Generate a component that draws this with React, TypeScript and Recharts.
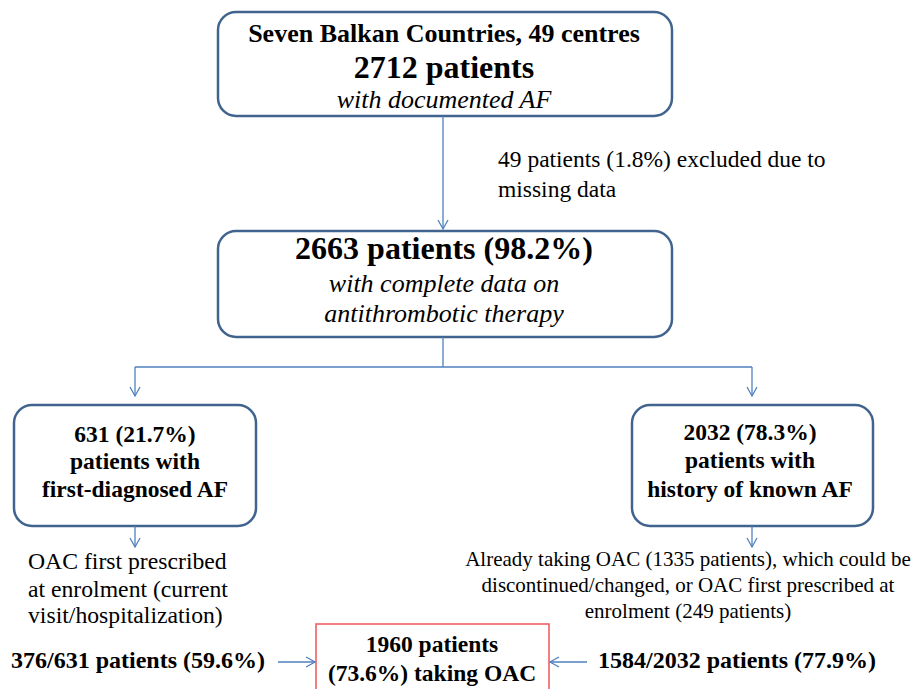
import React from 'react';
import { ComposedChart, XAxis, YAxis, ReferenceArea, ReferenceLine, ReferenceDot } from 'recharts';

const W = 917;
const H = 689;
const FONT = "'Liberation Serif', 'Times New Roman', serif";
const BOX_STROKE = '#41648f';
const LINK = '#4f81bd';
const RED = '#f0555a';

// ---- content (text data) ----
const topBoxLines = ['Seven Balkan Countries, 49 centres', '2712 patients', 'with documented AF'];
const midBoxLines = ['2663 patients (98.2%)', 'with complete data on', 'antithrombotic therapy'];
const excludedLines = ['49 patients (1.8%) excluded due to', 'missing data'];
const leftBoxLines = ['631 (21.7%)', 'patients with', 'first-diagnosed AF'];
const rightBoxLines = ['2032 (78.3%)', 'patients with', 'history of known AF'];
const leftNoteLines = ['OAC first prescribed', 'at enrolment (current', 'visit/hospitalization)'];
const rightNoteLines = [
  'Already taking OAC (1335 patients), which could be',
  'discontinued/changed, or OAC first prescribed at',
  'enrolment (249 patients)',
];
const leftResult = ['376/631 patients (59.6%)'];
const rightResult = ['1584/2032 patients (77.9%)'];
const finalBoxLines = ['1960 patients', '(73.6%) taking OAC'];

// ---- layout ----
type Style = { size: number; weight?: string; italic?: boolean };
type Block = { lines: string[]; x: number; ys: number[]; anchor: 'start' | 'middle'; styles: Style[] };

const B = (size: number): Style => ({ size, weight: 'bold' });
const I = (size: number): Style => ({ size, italic: true });
const R = (size: number): Style => ({ size });

const boxes = [
  { x1: 218, x2: 672, y1: 12, y2: 116, r: 18, stroke: BOX_STROKE, sw: 2.5 },
  { x1: 218, x2: 672, y1: 231, y2: 337, r: 18, stroke: BOX_STROKE, sw: 2.5 },
  { x1: 14, x2: 256, y1: 405, y2: 526, r: 18, stroke: BOX_STROKE, sw: 2.5 },
  { x1: 632, x2: 873, y1: 405, y2: 526, r: 18, stroke: BOX_STROKE, sw: 2.5 },
  { x1: 316, x2: 549, y1: 624, y2: 700, r: 0, stroke: RED, sw: 1.5 },
];

const blocks: Block[] = [
  { lines: topBoxLines, x: 444, ys: [42, 78, 108], anchor: 'middle', styles: [B(26), B(32), I(26)] },
  { lines: midBoxLines, x: 444, ys: [259, 292, 322], anchor: 'middle', styles: [B(32), I(26), I(26)] },
  { lines: excludedLines, x: 498, ys: [167, 197], anchor: 'start', styles: [R(23.5), R(23.5)] },
  { lines: leftBoxLines, x: 135, ys: [442, 469, 497], anchor: 'middle', styles: [B(23.5), B(23.5), B(23.5)] },
  { lines: rightBoxLines, x: 750, ys: [440, 468, 497], anchor: 'middle', styles: [B(23.5), B(23.5), B(23.5)] },
  { lines: leftNoteLines, x: 28, ys: [569, 597, 623], anchor: 'start', styles: [R(23.7), R(23.7), R(23.7)] },
  { lines: rightNoteLines, x: 688, ys: [566, 592, 618], anchor: 'middle', styles: [R(21), R(21), R(21)] },
  { lines: leftResult, x: 138, ys: [668], anchor: 'middle', styles: [B(24)] },
  { lines: rightResult, x: 737, ys: [668], anchor: 'middle', styles: [B(24)] },
  { lines: finalBoxLines, x: 432, ys: [652, 681], anchor: 'middle', styles: [B(23.5), B(23.5)] },
];

const links = [
  { x1: 443, y1: 116, x2: 443, y2: 229, arrow: true },
  { x1: 443, y1: 337, x2: 443, y2: 367, arrow: false },
  { x1: 135, y1: 367, x2: 752, y2: 367, arrow: false },
  { x1: 135, y1: 367, x2: 135, y2: 396, arrow: true },
  { x1: 752, y1: 367, x2: 752, y2: 396, arrow: true },
  { x1: 135, y1: 526, x2: 135, y2: 547, arrow: true },
  { x1: 752, y1: 526, x2: 752, y2: 547, arrow: true },
  { x1: 278, y1: 662, x2: 315, y2: 662, arrow: true },
  { x1: 587, y1: 662, x2: 550, y2: 662, arrow: true },
];

const axisData = [{ x: 0, y: 0 }, { x: W, y: H }];

const Arrow = (arrow: boolean) => (p: any) => {
  const { x1, y1, x2, y2 } = p;
  const dx = x2 - x1;
  const dy = y2 - y1;
  const len = Math.sqrt(dx * dx + dy * dy) || 1;
  const ux = dx / len;
  const uy = dy / len;
  const L = 9;
  const Wd = 5;
  const bx = x2 - ux * L;
  const by = y2 - uy * L;
  return (
    <g>
      <line x1={x1} y1={y1} x2={x2} y2={y2} stroke={LINK} strokeWidth={1.3} />
      {arrow && (
        <polyline
          points={`${bx - uy * Wd},${by + ux * Wd} ${x2},${y2} ${bx + uy * Wd},${by - ux * Wd}`}
          fill="none"
          stroke={LINK}
          strokeWidth={1.3}
        />
      )}
    </g>
  );
};

const BoxShape = (r: number, stroke: string, sw: number) => (p: any) => (
  <rect x={p.x} y={p.y} width={p.width} height={p.height} rx={r} ry={r} fill="#ffffff" stroke={stroke} strokeWidth={sw} />
);

const TextShape = (text: string, anchor: string, st: Style) => (p: any) => (
  <text
    x={p.cx}
    y={p.cy}
    textAnchor={anchor}
    style={{
      fontFamily: FONT,
      fontSize: st.size,
      fontWeight: st.weight === 'bold' ? 700 : 400,
      fontStyle: st.italic ? 'italic' : 'normal',
    }}
    fill="#000"
  >
    {text}
  </text>
);

export default function App() {
  return (
    <div style={{ position: 'absolute', left: 0, top: 0, width: W, height: H, overflow: 'hidden', background: '#fff' }}>
      <ComposedChart width={W} height={H} data={axisData} margin={{ top: 0, right: 0, bottom: 0, left: 0 }}>
        <XAxis dataKey="x" type="number" domain={[0, W]} hide allowDataOverflow />
        <YAxis dataKey="y" type="number" domain={[0, H]} reversed hide allowDataOverflow />
        {links.map((l, i) => (
          <ReferenceLine
            key={`l${i}`}
            segment={[{ x: l.x1, y: l.y1 }, { x: l.x2, y: l.y2 }]}
            ifOverflow="visible"
            shape={Arrow(l.arrow)}
          />
        ))}
        {boxes.map((b, i) => (
          <ReferenceArea
            key={`b${i}`}
            x1={b.x1}
            x2={b.x2}
            y1={b.y1}
            y2={b.y2}
            ifOverflow="visible"
            shape={BoxShape(b.r, b.stroke, b.sw)}
          />
        ))}
        {blocks.flatMap((bl, i) =>
          bl.lines.map((t, j) => (
            <ReferenceDot
              key={`t${i}-${j}`}
              x={bl.x}
              y={bl.ys[j]}
              r={0}
              ifOverflow="visible"
              shape={TextShape(t, bl.anchor, bl.styles[j])}
            />
          ))
        )}
      </ComposedChart>
    </div>
  );
}
